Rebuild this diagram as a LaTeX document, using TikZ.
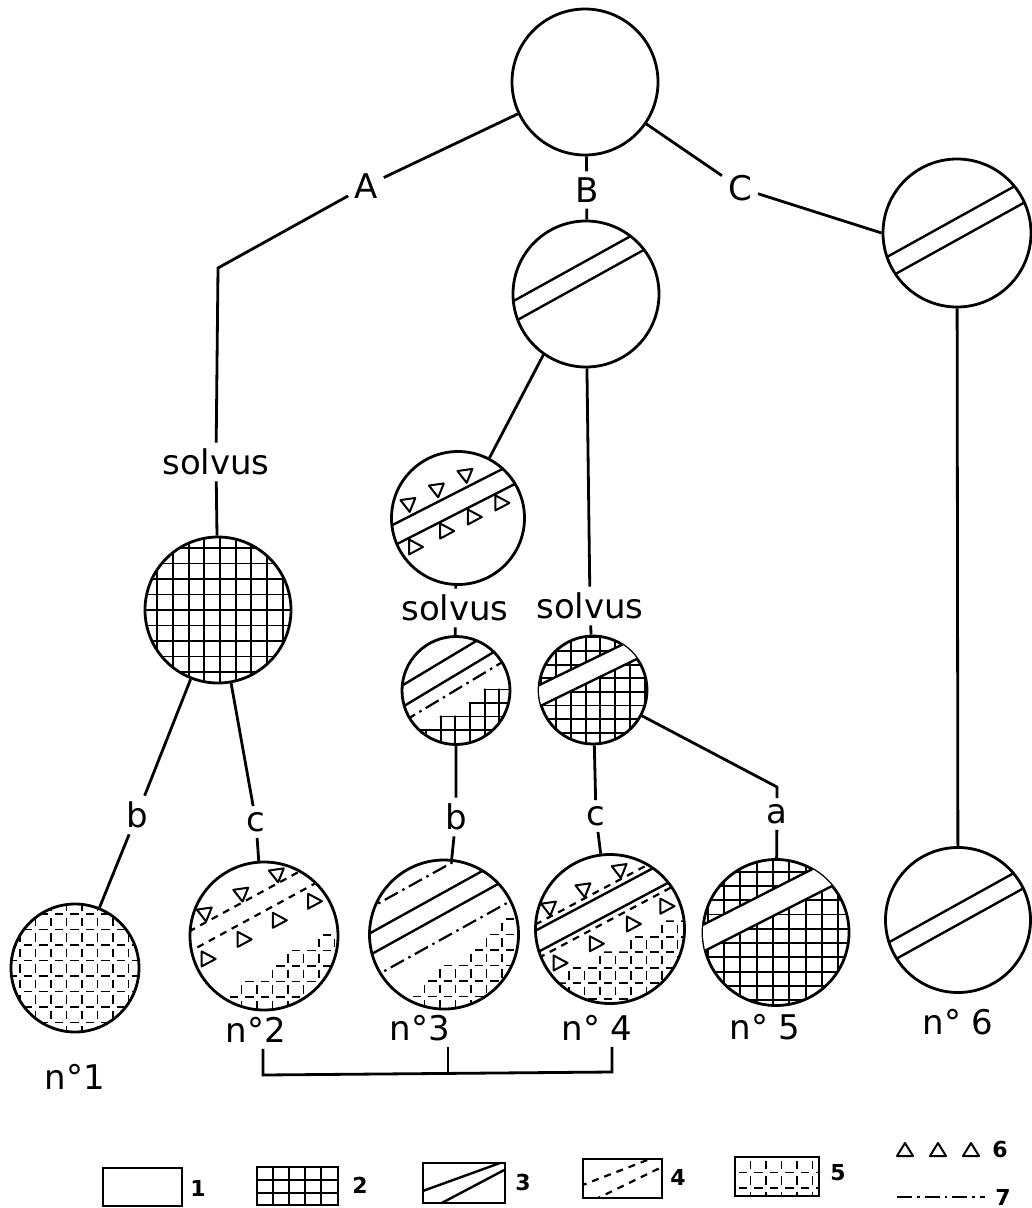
\documentclass[tikz,border=0pt]{standalone}
\usepackage{fontspec}
\setmainfont{DejaVu Sans}
\newcommand\labfont{\fontsize{34}{38}\selectfont}
\newcommand\keyfont{\fontsize{22}{24}\selectfont\bfseries}
\tikzset{
  rock/.style={circle, draw, line width=2.8pt, inner sep=0pt, minimum size=2*#1},
  lab/.style={font=\labfont, inner sep=6pt},
  key/.style={font=\keyfont, inner sep=1pt},
  edge/.style={line width=2.8pt},
  hatch/.style={line width=2.4pt},
  grid2/.style={line width=1.9pt},
  grid5/.style={line width=1.8pt, dash pattern=on 8.5pt off 7pt, dash phase=12pt},
  dash4/.style={line width=2.2pt, dash pattern=on 7pt off 6pt},
  dot7/.style={line width=2.2pt, dash pattern=on 15pt off 5pt on 2.5pt off 5pt},
  tri/.style={line width=2pt, line join=round},
}
% grids: #1 = column step, #2 = row step
\newcommand\solidgrid[2]{\foreach \k in {-7,...,7}
  {\draw[grid2] (\k*#1,-110) -- (\k*#1,110) (-110,\k*#2) -- (110,\k*#2);}}
\newcommand\dashgrid{\foreach \k in {-6,...,6}
  {\draw[grid5] (\k*15.5,-93) -- (\k*15.5,93) (-93,\k*15.5) -- (93,\k*15.5);}}
% triangles: #1 along the band, #2 across it, #3 band angle
\newcommand\tridown[3]{\draw[tri, shift={(#1,#2)}, rotate=-#3+8] (-7.5,-6) -- (7.5,-6) -- (0,7) -- cycle;}
\newcommand\triright[3]{\draw[tri, shift={(#1,#2)}, rotate=-#3] (-6.5,-7.5) -- (7.5,0) -- (-6.5,7.5) -- cycle;}
\newcommand\triup[2]{\draw[tri] (#1-8,#2+6) -- (#1+8,#2+6) -- (#1,#2-7) -- cycle;}

\begin{document}
\begin{tikzpicture}[x=1pt, y=-1pt]
\useasboundingbox (0,0) rectangle (1032,1208);

% circles
\node[rock=73] (top) at (585,82) {};
\node[rock=73] (cB) at (586,294) {};
\node[rock=74] (cC) at (957,233) {};
\node[rock=73] (gA) at (218,610) {};
\node[rock=66.5] (tri) at (458,518) {};
\node[rock=54] (sL) at (456,690.5) {};
\node[rock=54] (sR) at (593,690) {};
\node[rock=64] (n1) at (75,968) {};
\node[rock=74] (n2) at (264,936) {};
\node[rock=74.5] (n3) at (444,934.5) {};
\node[rock=74.5] (n4) at (610,929) {};
\node[rock=73] (n5) at (776,932.5) {};
\node[rock=72.5] (n6) at (958,920) {};

% labels
\node[lab] (lA) at (366,186) {A};
\node[lab] (lB) at (587,190) {B};
\node[lab] (lC) at (740,188) {C};
\node[lab] (sA) at (216,462) {solvus};
\node[lab] (sM) at (455,608) {solvus};
\node[lab] (sRl) at (590,606) {solvus};
\node[lab] (lb1) at (137,815) {b};
\node[lab] (lc1) at (256,822) {c};
\node[lab] (lb2) at (456,817) {b};
\node[lab] (lc2) at (596,816) {c};
\node[lab] (la) at (777,814) {a};
\node[lab] (m1) at (75,1077) {n°1};
\node[lab] (m2) at (256,1030) {n°2};
\node[lab] (m3) at (420,1028) {n°3};
\node[lab] (m4) at (597,1028) {n° 4};
\node[lab] (m5) at (765,1027) {n° 5};
\node[lab] (m6) at (958,1022) {n° 6};

\coordinate (kA) at (218,268);
\coordinate (ka) at (777,787);
\coordinate (br2) at (263,1075);
\coordinate (br3) at (448,1074);
\coordinate (br4) at (612,1072);

% connectors
\draw[edge] (top) -- (lA) -- (kA) -- (sA) -- (gA);
\draw[edge] (top) -- (lB) -- (cB);
\draw[edge] (top) -- (lC) -- (cC.west);
\draw[edge] (cC) -- (n6);
\draw[edge] (gA) -- (lb1) -- (n1);
\draw[edge] (gA) -- (lc1) -- (n2);
\draw[edge] (cB.235) -- (tri) -- (sM) -- (sL) -- (lb2) -- (n3);
\draw[edge] (cB) -- (sRl) -- (sR) -- (lc2) -- (n4);
\draw[edge] (sR) -- (ka) -- (la) -- (n5);
\draw[edge] (br2 |- m2.south) -- (br2) -- (br4) -- (br4 |- m4.south);
\draw[edge] (br3 |- m3.south) -- (br3);

% fillings
\begin{scope}[shift={(cB.center)}]
  \clip (0,0) circle (73pt);
  \draw[hatch, rotate=29] (-90,-29) -- (90,-29) (-90,-10.5) -- (90,-10.5);
\end{scope}
\begin{scope}[shift={(cC.center)}]
  \clip (0,0) circle (74pt);
  \draw[hatch, rotate=29] (-90,-13) -- (90,-13) (-90,6) -- (90,6);
\end{scope}
\begin{scope}[shift={(n6.center)}]
  \clip (0,0) circle (72.5pt);
  \draw[hatch, rotate=29] (-90,-14) -- (90,-14) (-90,4) -- (90,4);
\end{scope}
\begin{scope}[shift={(gA.center)}]
  \clip (0,0) circle (73pt);
  \begin{scope}[shift={(2,0)}] \solidgrid{15.7}{15.5} \end{scope}
\end{scope}
\begin{scope}[shift={(tri.center)}]
  \clip (0,0) circle (66.5pt);
  \begin{scope}[rotate=27]
    \draw[hatch] (-90,-23.5) -- (90,-23.5) (-90,-4.5) -- (90,-4.5);
    \foreach \a in {-38,-6,26} {\tridown{\a}{-34}{27}}
    \foreach \a in {-51,-16,15,46} {\triright{\a}{6.5}{27}}
  \end{scope}
\end{scope}
\begin{scope}[shift={(sL.center)}]
  \clip (0,0) circle (54pt);
  \draw[hatch, rotate=31] (-90,-32) -- (90,-32) (-90,-13.5) -- (90,-13.5);
  \draw[dot7, rotate=31] (-90,-0.5) -- (90,-0.5);
  \clip (-100,100) -- (-100,38.5) -- (-16.4,38.5) -- (-16.4,25) -- (13,25) -- (13,11.5)
    -- (27.7,11.5) -- (27.7,-2) -- (100,-2) -- (100,100) -- cycle;
  \begin{scope}[shift={(-0.7,-1)}] \solidgrid{14.7}{13.5} \end{scope}
\end{scope}
\begin{scope}[shift={(sR.center)}]
  \clip (0,0) circle (54pt);
  \begin{scope}[shift={(7.4,1.9)}] \solidgrid{14.8}{13.6} \end{scope}
  \fill[white, rotate=26] (-90,-28) rectangle (90,-8.7);
  \draw[hatch, rotate=26] (-90,-28) -- (90,-28) (-90,-8.7) -- (90,-8.7);
\end{scope}
\begin{scope}[shift={(n5.center)}]
  \clip (0,0) circle (73pt);
  \begin{scope}[shift={(-3,-3.7)}] \solidgrid{16.3}{14.3} \end{scope}
  \fill[white, rotate=27] (-90,-40) rectangle (90,-16);
  \draw[hatch, rotate=27] (-90,-40) -- (90,-40) (-90,-16) -- (90,-16);
\end{scope}
\begin{scope}[shift={(n1.center)}]
  \clip (0,0) circle (64pt);
  \begin{scope}[shift={(7,8)}] \dashgrid \end{scope}
\end{scope}
\begin{scope}[shift={(n2.center)}]
  \clip (0,0) circle (74pt);
  \begin{scope}[rotate=28.5]
    \draw[dash4] (-90,-39.8) -- (90,-39.8) (-90,-21.8) -- (90,-21.8);
    \foreach \a in {-41.5,0,40.5} {\tridown{\a}{-47}{28.5}}
    \foreach \a in {-60,-19,21,61} {\triright{\a}{-6.5}{28.5}}
  \end{scope}
  \clip (-39,100) -- (-39,60) -- (-23.5,60) -- (-23.5,44.5) -- (7.5,44.5) -- (7.5,29)
    -- (23,29) -- (23,13.5) -- (54,13.5) -- (54,-2) -- (100,-2) -- (100,100) -- cycle;
  \begin{scope}[shift={(8.5,-1)}] \dashgrid \end{scope}
\end{scope}
\begin{scope}[shift={(n3.center)}]
  \clip (0,0) circle (74.5pt);
  \begin{scope}[rotate=29]
    \draw[dot7] (-90,-59) -- (90,-59) (-90,3) -- (90,3);
    \draw[hatch] (-90,-37) -- (90,-37) (-90,-18) -- (90,-18);
  \end{scope}
  \clip (-36,100) -- (-36,61) -- (-20.5,61) -- (-20.5,45.5) -- (-5,45.5) -- (-5,30)
    -- (26,30) -- (26,14.5) -- (41.5,14.5) -- (41.5,-1) -- (57,-1) -- (57,-16.5)
    -- (100,-16.5) -- (100,100) -- cycle;
  \begin{scope}[shift={(-4,0)}] \dashgrid \end{scope}
\end{scope}
\begin{scope}[shift={(n4.center)}]
  \clip (0,0) circle (74.5pt);
  \begin{scope}[rotate=28]
    \draw[dash4] (-90,-39) -- (90,-39) (-90,-8) -- (90,-8);
    \draw[hatch] (-90,-33.5) -- (90,-33.5) (-90,-13.5) -- (90,-13.5);
    \foreach \a in {-44,-5,36} {\tridown{\a}{-46.5}{28}}
    \foreach \a in {-60,-19,23,61} {\triright{\a}{6.6}{28}}
  \end{scope}
  \clip (-100,100) -- (-100,53.3) -- (-42,53.3) -- (-42,37.8) -- (-11,37.8) -- (-11,22.3)
    -- (20,22.3) -- (20,6.8) -- (51,6.8) -- (51,-8.7) -- (100,-8.7) -- (100,100) -- cycle;
  \begin{scope}[shift={(5.5,-7.7)}] \dashgrid \end{scope}
\end{scope}

% key
\draw[edge] (103,1168) rectangle (182,1206);
\node[key] at (198,1188) {1};
\draw[edge] (257,1167) rectangle (338,1205);
\begin{scope}
  \clip (257,1167) rectangle (338,1205);
  \foreach \k in {1,...,4} {\draw[grid2] (257+\k*16,1167) -- (257+\k*16,1205);}
  \foreach \k in {1,2} {\draw[grid2] (257,1167+\k*13) -- (338,1167+\k*13);}
\end{scope}
\node[key] at (360,1185) {2};
\draw[edge] (423,1163) rectangle (505,1203);
\begin{scope}
  \clip (423,1163) rectangle (505,1203);
  \draw[hatch] (420,1192) -- (500,1163) (436,1206) -- (508,1168);
\end{scope}
\node[key] at (523,1182) {3};
\draw[edge] (583,1159) rectangle (662,1198);
\begin{scope}
  \clip (583,1159) rectangle (662,1198);
  \draw[dash4] (580,1186) -- (650,1159) (594,1200) -- (664,1166);
\end{scope}
\node[key] at (678,1177) {4};
\draw[edge] (735,1157) rectangle (819,1196);
\begin{scope}
  \clip (735,1157) rectangle (819,1196);
  \begin{scope}[shift={(735,1157)}] \dashgrid \end{scope}
\end{scope}
\node[key] at (838,1173) {5};
\foreach \x in {905,938,971} {\triup{\x}{1150}}
\node[key] at (1000,1149) {6};
\draw[dot7] (897,1197) -- (985,1197);
\node[key] at (1003,1197) {7};
\end{tikzpicture}
\end{document}
